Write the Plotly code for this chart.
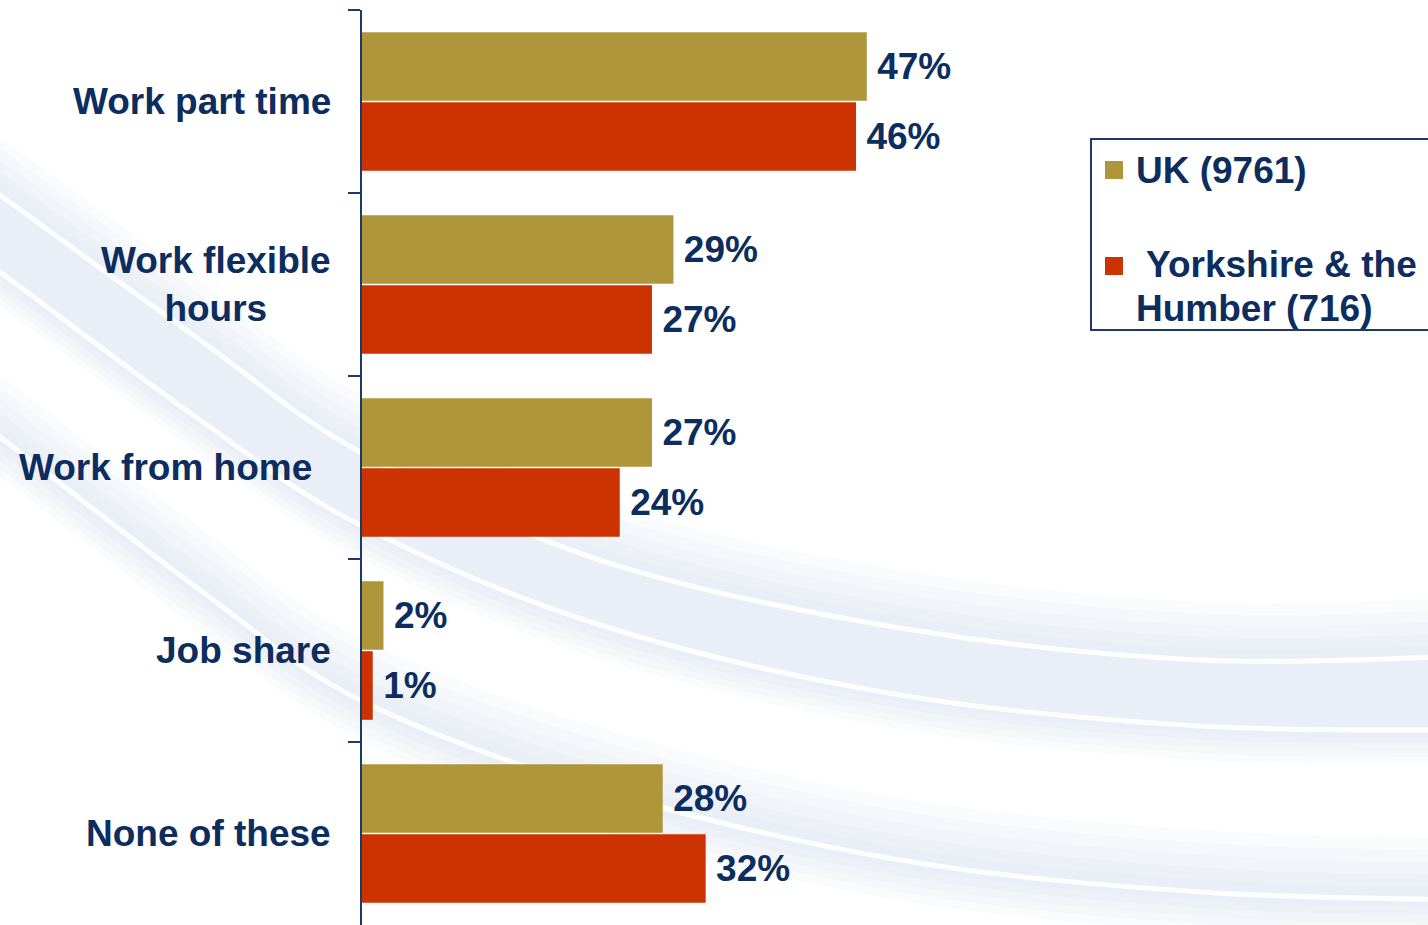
import plotly.graph_objects as go

# ---- data -------------------------------------------------------------
categories = ["Work part time", "Work flexible hours", "Work from home", "Job share", "None of these"]
category_labels = ["Work part time", "Work flexible<br>hours", "Work from home", "Job share", "None of these"]
uk_values = [47, 29, 27, 2, 28]
yorkshire_values = [46, 27, 24, 1, 32]
series_names = ["UK (9761)", "Yorkshire & the", "Humber (716)"]

# ---- styling ----------------------------------------------------------
W, H = 1428, 925
GOLD = "#B0963A"
RED = "#CC3300"
NAVY = "#0C2D5E"
AXIS = "#1C3A68"
FONT = "Liberation Sans, Arial, sans-serif"
FS = 37


def px(x):
    return x / W


def py(y):
    return 1 - y / H


def _bezier_segments(points):
    pts = [(px(x), py(y)) for x, y in points]
    segs = []
    for i in range(len(pts) - 1):
        p0 = pts[i - 1] if i > 0 else pts[i]
        p1, p2 = pts[i], pts[i + 1]
        p3 = pts[i + 2] if i + 2 < len(pts) else pts[i + 1]
        c1 = (p1[0] + (p2[0] - p0[0]) / 6, p1[1] + (p2[1] - p0[1]) / 6)
        c2 = (p2[0] - (p3[0] - p1[0]) / 6, p2[1] - (p3[1] - p1[1]) / 6)
        segs.append(f" C {c1[0]:.5f},{c1[1]:.5f} {c2[0]:.5f},{c2[1]:.5f} {p2[0]:.5f},{p2[1]:.5f}")
    return pts, "".join(segs)


def smooth_path(points):
    pts, segs = _bezier_segments(points)
    return f"M {pts[0][0]:.5f},{pts[0][1]:.5f}" + segs


def band_path(top, bottom):
    t_pts, t_segs = _bezier_segments(top)
    b_rev = list(reversed(bottom))
    b_pts, b_segs = _bezier_segments(b_rev)
    return (f"M {t_pts[0][0]:.5f},{t_pts[0][1]:.5f}" + t_segs +
            f" L {b_pts[0][0]:.5f},{b_pts[0][1]:.5f}" + b_segs + " Z")


def shifted(points, dy):
    return [(x, y + dy) for x, y in points]


fig = go.Figure()

for vals, name, color in ((uk_values, series_names[0], GOLD),
                          (yorkshire_values, "Yorkshire & the Humber (716)", RED)):
    fig.add_trace(go.Bar(
        y=categories, x=vals, orientation="h", name=name,
        marker=dict(color=color, line=dict(width=0)),
        texttemplate="\u2009%{x}%", textposition="outside", cliponaxis=False,
        constraintext="none",
        textfont=dict(family=FONT, size=FS, color=NAVY, weight="bold"),
        showlegend=False,
    ))

shapes = []

# soft background swooshes: nested translucent bands fade towards their edges
xs = [-40, 0, 200, 360, 600, 900, 1200, 1470]
streak_a = list(zip(xs, [165, 195, 340, 452, 560, 628, 660, 656]))
streak_b = list(zip(xs, [245, 272, 420, 525, 625, 695, 726, 730]))
streak_c = list(zip(xs, [410, 437, 590, 700, 790, 860, 892, 900]))

for grow in (1.0, 0.8, 0.6, 0.4, 0.2):
    shapes.append(dict(type="path", xref="paper", yref="paper", layer="below",
                       path=band_path(shifted(streak_a, -58 * grow), shifted(streak_b, 34 * grow)),
                       line=dict(width=0), fillcolor="#DCE2F0", opacity=0.13))
    shapes.append(dict(type="path", xref="paper", yref="paper", layer="below",
                       path=band_path(shifted(streak_c, -62 * grow), shifted(streak_c, 40 * grow)),
                       line=dict(width=0), fillcolor="#DCE2F0", opacity=0.13))
for streak in (streak_a, streak_b, streak_c):
    shapes.append(dict(type="path", xref="paper", yref="paper", layer="below",
                       path=smooth_path(streak), line=dict(color="white", width=5),
                       opacity=0.95))

# legend box and swatches
shapes.append(dict(type="rect", xref="paper", yref="paper",
                   x0=px(1091), x1=px(1445), y0=py(139), y1=py(330),
                   line=dict(color=AXIS, width=2), fillcolor="white"))
shapes.append(dict(type="rect", xref="paper", yref="paper",
                   x0=px(1105), x1=px(1123), y0=py(161), y1=py(179),
                   line=dict(width=0), fillcolor=GOLD))
shapes.append(dict(type="rect", xref="paper", yref="paper",
                   x0=px(1105), x1=px(1123), y0=py(257), y1=py(275),
                   line=dict(width=0), fillcolor=RED))

label_font = dict(family=FONT, size=FS, color=NAVY, weight="bold")
annotations = []
label_right = [333, 333, 314, 333, 333]
for cat, lab, xr in zip(categories, category_labels, label_right):
    annotations.append(dict(xref="paper", yref="y", x=px(xr), y=cat, text=lab,
                            xanchor="right", yanchor="middle", align="center",
                            showarrow=False, font=label_font))

annotations += [
    dict(xref="paper", yref="paper", x=px(1134), y=py(170), text=series_names[0],
         xanchor="left", yanchor="middle", showarrow=False, font=label_font),
    dict(xref="paper", yref="paper", x=px(1144), y=py(265), text=series_names[1],
         xanchor="left", yanchor="middle", showarrow=False, font=label_font),
    dict(xref="paper", yref="paper", x=px(1134), y=py(309), text=series_names[2],
         xanchor="left", yanchor="middle", showarrow=False, font=label_font),
]

fig.update_layout(
    width=W, height=H,
    margin=dict(l=0, r=0, t=0, b=0),
    paper_bgcolor="white",
    plot_bgcolor="rgba(0,0,0,0)",
    barmode="group",
    bargap=0.235,
    bargroupgap=0.02,
    shapes=shapes,
    annotations=annotations,
    xaxis=dict(domain=[px(362), px(899)], range=[0, 50], visible=False, fixedrange=True),
    yaxis=dict(domain=[0, py(10)], type="category", categoryorder="array",
               categoryarray=categories, autorange="reversed",
               showline=True, linecolor=AXIS, linewidth=2,
               ticks="outside", ticklen=12, tickwidth=2, tickcolor=AXIS,
               tickson="boundaries", showticklabels=False, showgrid=False,
               zeroline=False, fixedrange=True),
    showlegend=False,
)

fig.write_html("out.html")
